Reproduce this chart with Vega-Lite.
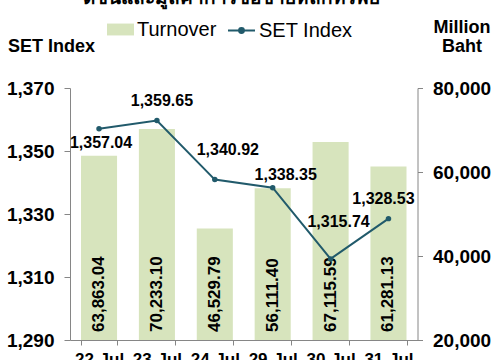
{
  "$schema": "https://vega.github.io/schema/vega-lite/v6.json",
  "width": 347.5,
  "height": 252,
  "autosize": {"type": "none"},
  "padding": {"left": 70, "top": 88, "right": 80, "bottom": 20},
  "title": {"text": "ดัชนีและมูลค่าการซื้อขายหลักทรัพย์", "font": "Liberation Sans", "fontSize": 19, "fontWeight": "bold", "color": "black", "anchor": "middle", "dx": -12, "dy": -4},
  "config": {
    "view": {"stroke": null},
    "font": "Liberation Sans",
    "axis": {"grid": false, "domainColor": "#868686", "tickColor": "#868686", "labelColor": "#000", "labelFont": "Liberation Sans", "labelFontWeight": "bold", "titleColor": "#000", "titleFont": "Liberation Sans"}
  },
  "data": {"values": [
    {"date": "22-Jul", "turnover": 63863.04, "set": 1357.04},
    {"date": "23-Jul", "turnover": 70233.10, "set": 1359.65},
    {"date": "24-Jul", "turnover": 46529.79, "set": 1340.92},
    {"date": "29-Jul", "turnover": 56111.40, "set": 1338.35},
    {"date": "30-Jul", "turnover": 67115.59, "set": 1315.74},
    {"date": "31-Jul", "turnover": 61281.13, "set": 1328.53}
  ]},
  "layer": [
    {"layer": [
      {"mark": {"type": "bar", "color": "#d7e4bd"},
       "encoding": {
         "x": {"field": "date", "type": "ordinal", "sort": null, "scale": {"paddingInner": 0.377, "paddingOuter": 0.19},
               "axis": {"title": null, "labelAngle": 0, "labelFontSize": 17, "tickBand": "extent", "tickSize": 5, "labelPadding": 6}},
         "y": {"field": "turnover", "type": "quantitative", "scale": {"domain": [20000, 80000], "zero": false, "nice": false},
               "axis": {"orient": "right", "values": [20000, 40000, 60000, 80000], "format": ",d", "labelFontSize": 19, "tickSize": 5, "labelPadding": 10,
                        "title": ["Million", "Baht"], "titleAngle": 0, "titleX": 44, "titleY": -70, "titleAlign": "center", "titleBaseline": "top", "titleFontSize": 18, "titleFontWeight": "bold", "titleLineHeight": 19}},
         "y2": {"datum": 20000},
         "fill": {"datum": "Turnover", "type": "nominal", "scale": {"range": ["#d7e4bd"]},
                  "legend": {"orient": "none", "legendX": 37, "legendY": -72, "title": null, "symbolType": "M-1,-0.44H1V0.44H-1Z", "symbolSize": 729, "symbolStrokeWidth": 0, "labelFontSize": 20, "labelFont": "Liberation Sans", "labelColor": "black", "labelOffset": 3}}
       }},
      {"mark": {"type": "text", "angle": 270, "align": "left", "baseline": "middle", "dx": 8, "font": "Liberation Sans", "fontSize": 17, "fontWeight": "bold", "color": "black"},
       "encoding": {
         "x": {"field": "date", "type": "ordinal", "sort": null},
         "y": {"datum": 20000, "type": "quantitative"},
         "text": {"field": "turnover", "type": "quantitative", "format": ",.2f"}
       }}
    ]},
    {"encoding": {
       "x": {"field": "date", "type": "ordinal", "sort": null},
       "y": {"field": "set", "type": "quantitative", "scale": {"domain": [1290, 1370], "zero": false, "nice": false},
             "axis": {"orient": "left", "values": [1290, 1310, 1330, 1350, 1370], "format": ",d", "labelFontSize": 19, "tickSize": 6, "labelPadding": 10,
                      "title": "SET Index", "titleAngle": 0, "titleX": -19, "titleY": -42, "titleAlign": "center", "titleBaseline": "middle", "titleFontSize": 18, "titleFontWeight": "bold"}}
     },
     "layer": [
      {"mark": {"type": "line", "strokeWidth": 2},
       "encoding": {
         "stroke": {"datum": "SET Index", "type": "nominal", "scale": {"range": ["#215a6b"]},
                    "legend": {"orient": "none", "legendX": 157, "legendY": -72, "title": null, "symbolType": "M-1,0H1M-0.18,0A0.18,0.18 0 1,0 0.18,0A0.18,0.18 0 1,0 -0.18,0", "symbolSize": 729, "symbolStrokeWidth": 2, "symbolFillColor": "#215a6b", "labelFontSize": 20, "labelFont": "Liberation Sans", "labelColor": "black", "labelOffset": 3}}
       }},
      {"mark": {"type": "point", "filled": true, "size": 30, "color": "#215a6b", "opacity": 1}},
      {"transform": [{"filter": "datum.date === '22-Jul'"}],
       "mark": {"type": "text", "dx": 2, "dy": 14, "font": "Liberation Sans", "fontSize": 16, "fontWeight": "bold", "color": "black"},
       "encoding": {"text": {"field": "set", "type": "quantitative", "format": ",.2f"}}},
      {"transform": [{"filter": "datum.date === '23-Jul'"}],
       "mark": {"type": "text", "dx": 5, "dy": -20, "font": "Liberation Sans", "fontSize": 16, "fontWeight": "bold", "color": "black"},
       "encoding": {"text": {"field": "set", "type": "quantitative", "format": ",.2f"}}},
      {"transform": [{"filter": "datum.date === '24-Jul'"}],
       "mark": {"type": "text", "dx": 13, "dy": -30, "font": "Liberation Sans", "fontSize": 16, "fontWeight": "bold", "color": "black"},
       "encoding": {"text": {"field": "set", "type": "quantitative", "format": ",.2f"}}},
      {"transform": [{"filter": "datum.date === '29-Jul'"}],
       "mark": {"type": "text", "dx": 13, "dy": -13, "font": "Liberation Sans", "fontSize": 16, "fontWeight": "bold", "color": "black"},
       "encoding": {"text": {"field": "set", "type": "quantitative", "format": ",.2f"}}},
      {"transform": [{"filter": "datum.date === '30-Jul'"}],
       "mark": {"type": "text", "dx": 8, "dy": -37, "font": "Liberation Sans", "fontSize": 16, "fontWeight": "bold", "color": "black"},
       "encoding": {"text": {"field": "set", "type": "quantitative", "format": ",.2f"}}},
      {"transform": [{"filter": "datum.date === '31-Jul'"}],
       "mark": {"type": "text", "dx": -5, "dy": -20, "font": "Liberation Sans", "fontSize": 16, "fontWeight": "bold", "color": "black"},
       "encoding": {"text": {"field": "set", "type": "quantitative", "format": ",.2f"}}}
    ]}
  ],
  "resolve": {"scale": {"y": "independent"}}
}
